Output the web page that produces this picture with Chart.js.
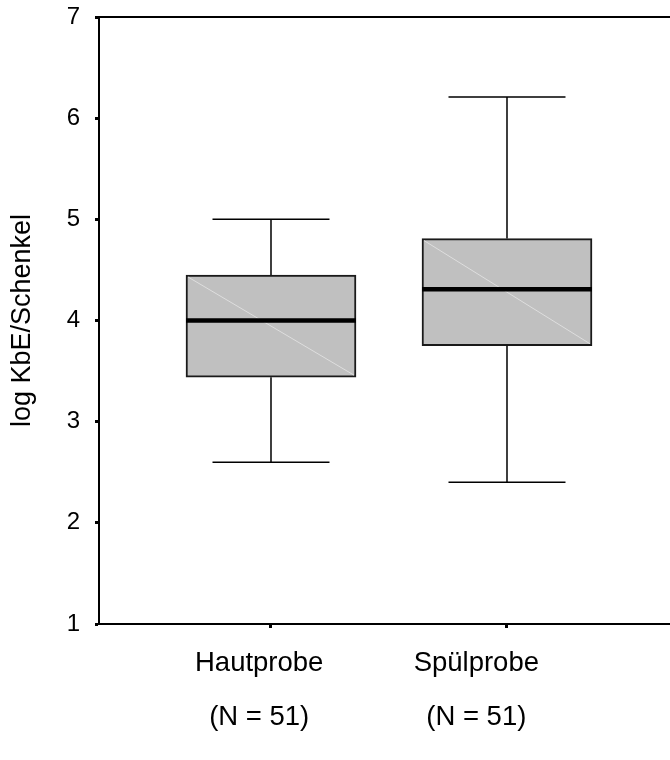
<!DOCTYPE html>
<html>
<head>
<meta charset="utf-8">
<script src="https://cdn.jsdelivr.net/npm/chart.js@4/dist/chart.umd.min.js"></script>
<style>
  html, body { margin: 0; padding: 0; background: #fff; }
  #wrap { width: 670px; height: 760px; overflow: hidden; position: relative; }
  canvas { display: block; }
</style>
</head>
<body>
<div id="wrap"><canvas id="c" width="700" height="760" style="width:700px;height:760px"></canvas></div>
<script>
// ---- data ----
const categories   = ['Hautprobe', 'Spülprobe'];
const nLabels      = ['(N = 51)', '(N = 51)'];
const whiskerLow   = [2.6, 2.4];
const q1           = [3.44, 3.75];
const median       = [4.0, 4.31];
const q3           = [4.45, 4.81];
const whiskerHigh  = [5.0, 6.21];
const yTicks       = [1, 2, 3, 4, 5, 6, 7];

// ---- style / layout constants ----
const FONT = "'Liberation Sans', Arial, sans-serif";
const BOX_PX = 170;
const CAP_PX = 117;
const X_MIN = 0.2712, X_MAX = 2.8178;
const labelShift = [-0.05, -0.13];

const boxPlugin = {
  id: 'boxParts',
  afterDatasetsDraw(chart) {
    const { ctx } = chart;
    const x = chart.scales.x, y = chart.scales.y;
    ctx.save();
    categories.forEach((c, i) => {
      const cx = x.getPixelForValue(i + 1);
      const hb = BOX_PX / 2, hc = CAP_PX / 2;
      const yq1 = y.getPixelForValue(q1[i]);
      const yq3 = y.getPixelForValue(q3[i]);
      // faint diagonal
      ctx.strokeStyle = '#dedede';
      ctx.lineWidth = 1;
      ctx.beginPath();
      ctx.moveTo(cx - hb + 2, yq3 + 2);
      ctx.lineTo(cx + hb - 2, yq1 - 2);
      ctx.stroke();
      // whiskers
      ctx.strokeStyle = '#000';
      ctx.lineWidth = 1.5;
      ctx.beginPath();
      ctx.moveTo(cx, yq3);
      ctx.lineTo(cx, y.getPixelForValue(whiskerHigh[i]));
      ctx.moveTo(cx, yq1);
      ctx.lineTo(cx, y.getPixelForValue(whiskerLow[i]));
      ctx.moveTo(cx - hc, y.getPixelForValue(whiskerHigh[i]));
      ctx.lineTo(cx + hc, y.getPixelForValue(whiskerHigh[i]));
      ctx.moveTo(cx - hc, y.getPixelForValue(whiskerLow[i]));
      ctx.lineTo(cx + hc, y.getPixelForValue(whiskerLow[i]));
      ctx.stroke();
      // median
      ctx.lineWidth = 4.5;
      ctx.beginPath();
      ctx.moveTo(cx - hb, y.getPixelForValue(median[i]));
      ctx.lineTo(cx + hb, y.getPixelForValue(median[i]));
      ctx.stroke();
    });
    ctx.restore();
  }
};

new Chart(document.getElementById('c'), {
  type: 'bar',
  data: {
    datasets: [{
      data: categories.map((c, i) => ({ x: i + 1, y: [q1[i], q3[i]] })),
      backgroundColor: '#c0c0c0',
      borderColor: '#1a1a1a',
      borderWidth: 2,
      borderSkipped: false,
      barThickness: BOX_PX
    }]
  },
  options: {
    responsive: false,
    animation: false,
    devicePixelRatio: 1,
    layout: { padding: { top: 17, left: 0, right: 0, bottom: 0 } },
    plugins: { legend: { display: false }, tooltip: { enabled: false } },
    scales: {
      x: {
        type: 'linear', position: 'bottom', weight: 0,
        min: X_MIN, max: X_MAX, offset: false,
        afterBuildTicks: s => { s.ticks = categories.map((c, i) => ({ value: i + 1 })); },
        ticks: { display: false },
        grid: { display: true, offset: false, drawOnChartArea: false, drawTicks: true, tickLength: 4, tickWidth: 3, tickColor: '#000', color: '#000' },
        border: { display: true, color: '#000', width: 2 },
        afterFit: s => { s.height = 0; s.paddingLeft = 0; s.paddingRight = 0; }
      },
      xl: {
        type: 'linear', position: 'bottom', weight: 1,
        min: X_MIN, max: X_MAX, offset: false,
        afterBuildTicks: s => { s.ticks = categories.map((c, i) => ({ value: i + 1 + labelShift[i] })); },
        ticks: {
          autoSkip: false, maxRotation: 0, minRotation: 0, padding: 12, color: '#000',
          font: { family: FONT, size: 27.5, lineHeight: 1.964 },
          callback: (v, idx) => [categories[idx], nLabels[idx]]
        },
        grid: { display: false, drawTicks: false, offset: false },
        border: { display: false },
        afterFit: s => { s.height = 136; s.paddingLeft = 0; s.paddingRight = 0; }
      },
      xt: {
        type: 'linear', position: 'top',
        min: X_MIN, max: X_MAX, offset: false,
        ticks: { display: false },
        grid: { display: false, drawTicks: false, offset: false },
        border: { display: true, color: '#000', width: 2 },
        afterFit: s => { s.height = 0; s.paddingLeft = 0; s.paddingRight = 0; }
      },
      y: {
        type: 'linear', position: 'left',
        min: 1, max: 7,
        afterBuildTicks: s => { s.ticks = yTicks.map(v => ({ value: v })); },
        ticks: { color: '#000', padding: 15, font: { family: FONT, size: 24 } },
        grid: { drawOnChartArea: false, drawTicks: true, tickLength: 4, tickWidth: 3, tickColor: '#000', color: '#000' },
        border: { display: true, color: '#000', width: 2 },
        title: { display: true, text: 'log KbE/Schenkel', color: '#000', font: { family: FONT, size: 27, lineHeight: 1 }, padding: { top: 9, bottom: 0 } },
        afterFit: s => { s.width = 99; s.paddingTop = 0; s.paddingBottom = 0; }
      }
    }
  },
  plugins: [boxPlugin]
});
</script>
</body>
</html>
